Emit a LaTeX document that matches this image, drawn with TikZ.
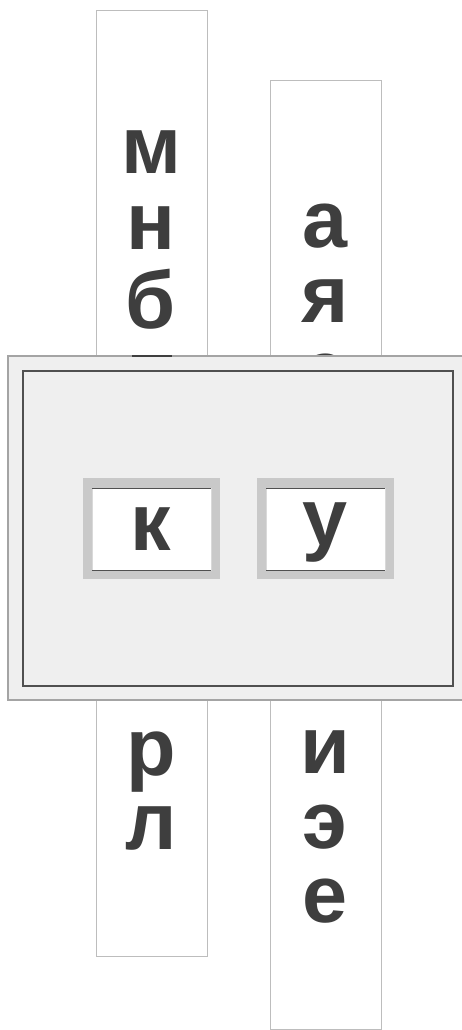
\documentclass[tikz,border=0pt]{standalone}
\usepackage{fontspec}
\setmainfont{Liberation Sans}
\definecolor{ink}{HTML}{3E3E3E}
\definecolor{stripline}{HTML}{BDBDBD}
\definecolor{bandfill}{HTML}{EFEFEF}
\definecolor{bandouter}{HTML}{A4A4A4}
\definecolor{bandinner}{HTML}{505050}
\definecolor{framegray}{HTML}{C9C9C9}
\tikzset{
  letter/.style={anchor=base, inner sep=0pt, text=ink, font=\fontsize{81}{81}\selectfont\bfseries},
  strip/.style={draw=stripline, line width=0.9pt, fill=white},
  frame/.style={draw=framegray, line width=9.5pt},
  window/.style={fill=white, draw=framegray!70, line width=0.6pt},
}
\begin{document}
\begin{tikzpicture}[x=1pt,y=-1pt]
\useasboundingbox (0,0) rectangle (462,1030);
\fill[white] (0,0) rectangle (462,1030);
% strips
\draw[strip] (96,10) rectangle (207,956);
\draw[strip] (270,80) rectangle (381,1029);
% left strip letters
\node[letter] (m) at (151,173) {м};
\node[letter] (n) at (151,249) {н};
\node[letter] (b) at (151,328) {б};
\node[letter] (r) at (151,775) {р};
\node[letter] (l) at (151,849) {л};
% right strip letters
\node[letter] (a) at (325,247) {а};
\node[letter] (ya) at (325,322) {я};
\node[letter] (hr) at (325,397) {е};
\node[letter] (i) at (325,773) {и};
\node[letter] (e2) at (325,848) {э};
\node[letter] (e3) at (325,922) {е};
% band
\draw[fill=bandfill, draw=bandouter, line width=1.3pt] (8,356) rectangle (475,700);
\draw[ink, line width=1.6pt] (132,356) -- (172,356);
\draw[draw=bandinner, line width=1.8pt] (23,371) rectangle (453,686);
% letter windows
\draw[frame] (87.5,483) rectangle (215.5,574.5);
\draw[window] (92,488) rectangle (211,570);
\draw[bandinner, line width=0.9pt] (92,488) -- (211,488) (92,570) -- (211,570);
\draw[frame] (261.5,483) rectangle (389.5,574.5);
\draw[window] (266,488) rectangle (385,570);
\draw[bandinner, line width=0.9pt] (266,488) -- (385,488) (266,570) -- (385,570);
\node[letter] (k) at (151,550) {к};
\node[letter] (u) at (325,545) {у};
\end{tikzpicture}
\end{document}
